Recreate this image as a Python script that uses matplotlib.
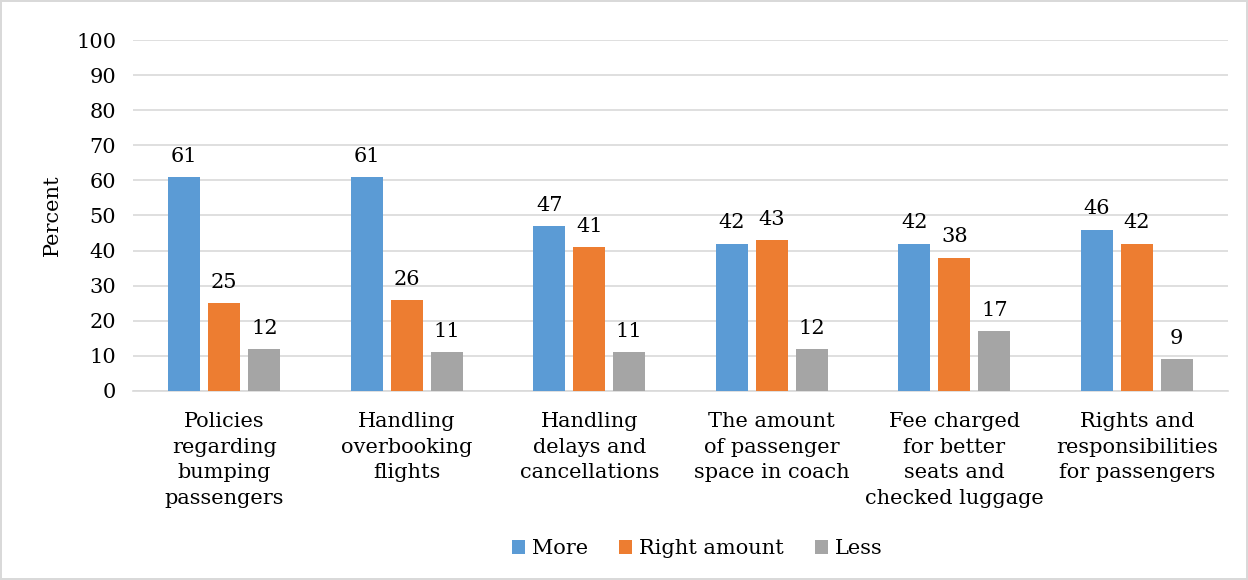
import matplotlib
matplotlib.use("Agg")
import matplotlib.pyplot as plt
import numpy as np

categories = [
    "Policies\nregarding\nbumping\npassengers",
    "Handling\noverbooking\nflights",
    "Handling\ndelays and\ncancellations",
    "The amount\nof passenger\nspace in coach",
    "Fee charged\nfor better\nseats and\nchecked luggage",
    "Rights and\nresponsibilities\nfor passengers",
]
more = [61, 61, 47, 42, 42, 46]
right_amount = [25, 26, 41, 43, 38, 42]
less = [12, 11, 11, 12, 17, 9]

series = [("More", more, "#5B9BD5"),
          ("Right amount", right_amount, "#ED7D31"),
          ("Less", less, "#A5A5A5")]

plt.rcParams["font.family"] = ["DejaVu Serif"]
fs = 15

fig = plt.figure(figsize=(12.48, 5.8), dpi=100)
fig.patch.set_edgecolor("#d9d9d9")
fig.patch.set_linewidth(1.5)
ax = fig.add_axes([0.1066, 0.326, 0.8774, 0.605])

x = np.arange(len(categories))
w = 0.175
step = 0.219
for i, (name, vals, color) in enumerate(series):
    pos = x + (i - 1) * step
    bars = ax.bar(pos, vals, w, color=color, label=name, zorder=3)
    for b, v in zip(bars, vals):
        ax.annotate(str(v), (b.get_x() + b.get_width() / 2, v),
                    xytext=(0, 8), textcoords="offset points",
                    ha="center", va="bottom", fontsize=fs)

ax.set_xlim(-0.5, len(categories) - 0.5)
ax.set_ylim(0, 100)
ax.set_yticks(range(0, 101, 10))
ax.set_xticks(x)
ax.set_xticklabels(categories, fontsize=fs, linespacing=1.45)
ax.tick_params(axis="y", labelsize=fs, length=0, pad=12)
ax.tick_params(axis="x", length=0, pad=15)
ax.grid(axis="y", color="#d9d9d9", linewidth=1.2, zorder=0)
for s in ["top", "right", "left"]:
    ax.spines[s].set_visible(False)
ax.spines["bottom"].set_color("#d9d9d9")
ax.spines["bottom"].set_linewidth(1.2)
ax.set_ylabel("Percent", fontsize=fs, labelpad=10)

ax.legend(loc="center", bbox_to_anchor=(0.515, -0.45), ncol=3, frameon=False,
          fontsize=fs, handlelength=0.65, handleheight=0.65, handletextpad=0.3,
          columnspacing=1.5)

fig.savefig("out.png", dpi=100)
